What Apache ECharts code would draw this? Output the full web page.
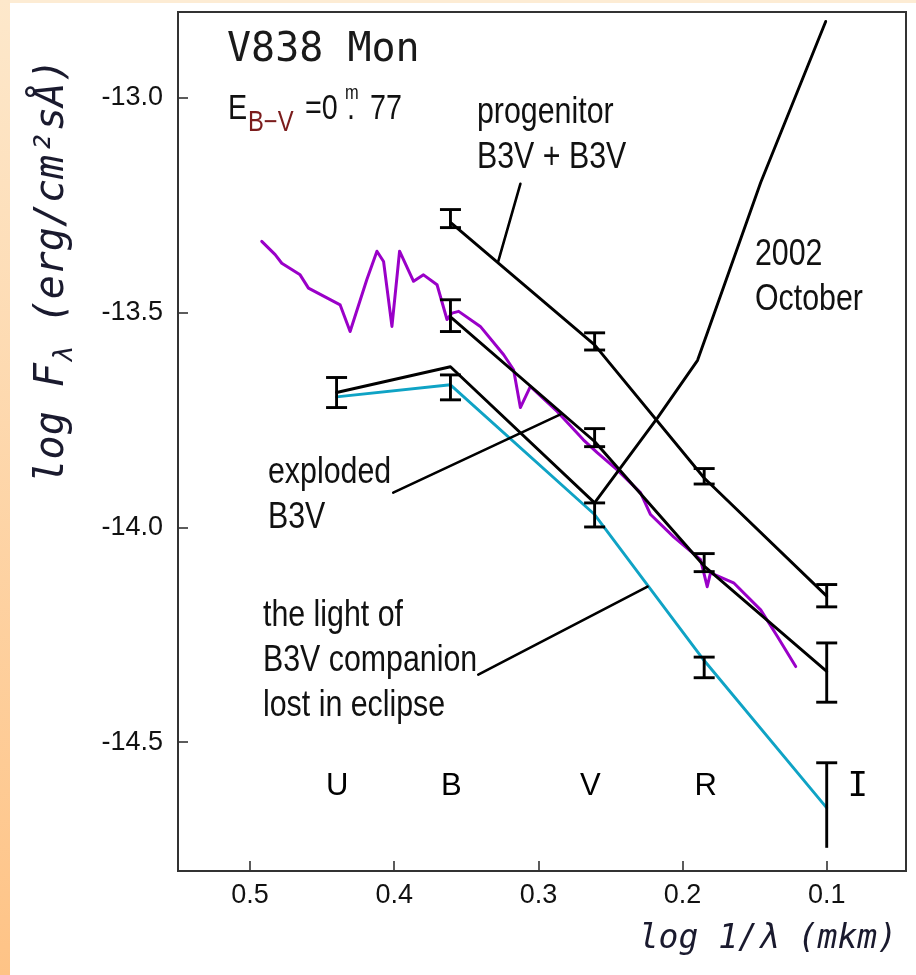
<!DOCTYPE html>
<html>
<head>
<meta charset="utf-8">
<script src="https://cdn.jsdelivr.net/npm/echarts@6/dist/echarts.min.js"></script>
<style>
  html, body { margin: 0; padding: 0; background: #fff; }
  #chart { width: 916px; height: 975px; }
</style>
</head>
<body>
<div id="chart"></div>
<script>
// Photometric bands and their positions, log(1/lambda) [1/mkm]
const bandNames = ['U', 'B', 'V', 'R', 'I'];
const bandX = [0.44, 0.361, 0.261, 0.185, 0.1];

// Progenitor B3V + B3V (bands B, V, R, I)
const progenitorFlux = [-13.29, -13.575, -13.885, -14.16];
const progenitorBarMid = [-13.281, -13.567, -13.881, -14.159];
const progenitorErr = [0.021, 0.02, 0.018, 0.026];

// Exploded B3V fit (bands B, V, R, I)
const explodedFlux = [-13.51, -13.80, -14.09, -14.335];
const explodedBarMid = [-13.507, -13.791, -14.082, -14.338];
const explodedErr = [0.037, 0.021, 0.021, 0.069];

// Eclipse-epoch photometry (bands U, B, V, R, I)
const eclipseBarMid = [-13.686, -13.674, -13.971, -14.326, -14.647];
const eclipseErr = [0.035, 0.029, 0.028, 0.024, 0.099];
const eclipseLowerCap = [1, 1, 1, 1, 0];
// Black polyline through U, B, V
const eclipseFlux = [-13.686, -13.626, -13.943];
// B3V companion light (cyan), bands U..I
const companionFlux = [-13.696, -13.668, -13.97, -14.31, -14.653];

// Spectrum
const specX = [0.4919, 0.4826, 0.4780, 0.4653, 0.4595, 0.4375, 0.4306, 0.4190, 0.4120, 0.4074,
  0.4016, 0.3963, 0.3866, 0.3797, 0.3703, 0.3634, 0.3599, 0.3553, 0.3403, 0.3241, 0.3172,
  0.3125, 0.3056, 0.2870, 0.2688, 0.2592, 0.2453, 0.2292, 0.2222, 0.2062, 0.1875, 0.1829,
  0.1806, 0.1646, 0.1458, 0.1342, 0.1215];
const specY = [-13.334, -13.365, -13.385, -13.412, -13.443, -13.482, -13.544, -13.423, -13.357, -13.381,
  -13.532, -13.357, -13.427, -13.412, -13.435, -13.516, -13.501, -13.497, -13.532, -13.598, -13.633,
  -13.721, -13.672, -13.730, -13.796, -13.826, -13.866, -13.919, -13.970, -14.022, -14.075, -14.138,
  -14.106, -14.129, -14.192, -14.254, -14.324];

// 2002 October energy distribution
const octX = [0.2604, 0.2174, 0.1896, 0.1826, 0.1458, 0.1007];
const octY = [-13.94, -13.745, -13.611, -13.545, -13.197, -12.822];

// Annotation pointer segments [[x0, y0], [x1, y1]]
const leaderProgenitor = [[0.3278, -13.38], [0.3125, -13.20]];
const leaderExploded = [[0.4007, -13.919], [0.2847, -13.737]];
const leaderCompanion = [[0.3417, -14.343], [0.2243, -14.138]];

// Axis ticks
const xTicks = [0.5, 0.4, 0.3, 0.2, 0.1];
const yTicks = [-14.5, -14.0, -13.5, -13.0];

// Band letters along the bottom
const bandLabelX = [0.4396, 0.3604, 0.2639, 0.184, 0.0785];
const bandLabelLevel = -14.604;

// ---- fonts ----
function fontAvailable(name) {
  const ctx = document.createElement('canvas').getContext('2d');
  const probe = 'progenitor B3V -13.0 0.5 exploded';
  ctx.font = '40px monospace';
  const a = ctx.measureText(probe).width;
  ctx.font = '40px "' + name + '", monospace';
  const b = ctx.measureText(probe).width;
  return Math.abs(a - b) > 0.5;
}
const HAS_NARROW = fontAvailable('Liberation Sans Narrow');
const SANS = HAS_NARROW ? '"Liberation Sans Narrow"' : '"Liberation Sans"';
const SQUEEZE = HAS_NARROW ? 1 : 0.82;
const TICK_SIZE = HAS_NARROW ? 32 : 27;
const MONO = '"DejaVu Sans Mono"';
const INK = '#111';
const TITLE_INK = '#1a1a2e';
const LW = 2.9;

const toPairs = (xs, ys) => xs.map((x, i) => [x, ys[i]]);

function barRows(xs, mids, errs, lowerCaps) {
  return xs.map((x, i) => [x, mids[i] - errs[i], mids[i] + errs[i], lowerCaps ? lowerCaps[i] : 1]);
}

function renderErrorBar(params, api) {
  const x = api.value(0);
  const top = api.coord([x, api.value(2)]);
  const bot = api.coord([x, api.value(1)]);
  const half = 10.5;
  const style = { stroke: '#000', lineWidth: LW };
  const children = [
    { type: 'line', shape: { x1: top[0], y1: top[1], x2: bot[0], y2: bot[1] }, style },
    { type: 'line', shape: { x1: top[0] - half, y1: top[1], x2: top[0] + half, y2: top[1] }, style }
  ];
  if (api.value(3)) {
    children.push({ type: 'line', shape: { x1: bot[0] - half, y1: bot[1], x2: bot[0] + half, y2: bot[1] }, style });
  }
  return { type: 'group', children };
}

function lineSeries(data, color, width, z) {
  return {
    type: 'line', data, showSymbol: false, symbol: 'none', silent: true,
    lineStyle: { color, width, join: 'round', cap: 'round' }, z: z || 3, animation: false
  };
}

function barSeries(rows) {
  return {
    type: 'custom', renderItem: renderErrorBar, data: rows, z: 5, silent: true,
    encode: { x: 0, y: [1, 2] }, animation: false
  };
}

function note(x, y, text, size) {
  return {
    type: 'text', x, y, scaleX: SQUEEZE, z: 20, silent: true,
    style: {
      text, fontFamily: SANS, fontSize: size, fill: INK, lineHeight: 45,
      align: 'left', verticalAlign: 'top'
    }
  };
}

function capText(x, yMid, text, size, color, family) {
  return {
    type: 'text', x, y: yMid, scaleX: family ? 1 : SQUEEZE, z: 20, silent: true,
    style: { text, fontFamily: family || SANS, fontSize: size, fill: color || INK, align: 'left', verticalAlign: 'middle' }
  };
}

const bandLabelData = bandNames.map((n, i) => ({
  name: n, value: [bandLabelX[i], bandLabelLevel],
  label: n === 'I' ? { fontFamily: MONO, fontSize: 34 } : {}
}));

const chart = echarts.init(document.getElementById('chart'), null, { renderer: 'canvas' });

const option = {
  backgroundColor: '#fff',
  animation: false,
  grid: {
    left: 178, right: 10, top: 12, bottom: 104,
    show: true, borderColor: '#333', borderWidth: 2, backgroundColor: '#fff',
    outerBoundsMode: 'none'
  },
  xAxis: {
    type: 'value', inverse: true, min: 0.045, max: 0.55,
    axisLine: { show: true, lineStyle: { color: '#333', width: 2 } },
    axisTick: { show: true, inside: true, length: 10, customValues: xTicks, lineStyle: { color: '#333', width: 1.6 } },
    axisLabel: {
      show: true, customValues: xTicks, margin: 11, color: INK,
      fontFamily: SANS, fontSize: TICK_SIZE, formatter: v => v.toFixed(1)
    },
    splitLine: { show: false }
  },
  yAxis: {
    type: 'value', min: -14.8, max: -12.8,
    axisLine: { show: true, lineStyle: { color: '#333', width: 2 } },
    axisTick: { show: true, inside: true, length: 10, customValues: yTicks, lineStyle: { color: '#333', width: 1.6 } },
    axisLabel: {
      show: true, customValues: yTicks, margin: 15, color: INK,
      fontFamily: SANS, fontSize: TICK_SIZE, formatter: v => v.toFixed(1)
    },
    splitLine: { show: false }
  },
  series: [
    lineSeries(toPairs(specX, specY), '#9a00c8', 3, 2),
    lineSeries(toPairs(bandX.slice(1), progenitorFlux), '#000', LW),
    lineSeries(toPairs(bandX.slice(1), explodedFlux), '#000', LW),
    lineSeries(toPairs(bandX.slice(0, 3), eclipseFlux), '#000', LW),
    lineSeries(toPairs(bandX, companionFlux), '#0fa3c5', LW),
    lineSeries(toPairs(octX, octY), '#000', LW),
    lineSeries(leaderProgenitor, '#000', 2.6),
    lineSeries(leaderExploded, '#000', 2.6),
    lineSeries(leaderCompanion, '#000', 2.6),
    barSeries(barRows(bandX.slice(1), progenitorBarMid, progenitorErr)),
    barSeries(barRows(bandX.slice(1), explodedBarMid, explodedErr)),
    barSeries(barRows(bandX, eclipseBarMid, eclipseErr, eclipseLowerCap)),
    {
      type: 'scatter', data: bandLabelData, symbolSize: 2, silent: true, z: 6,
      itemStyle: { color: '#fff', opacity: 1 },
      labelLayout: { hideOverlap: false },
      label: {
        show: true, position: 'inside', formatter: '{b}', color: '#000', opacity: 1,
        textBorderWidth: 0, fontFamily: SANS, fontSize: 31
      },
      animation: false
    }
  ],
  graphic: [
    // page edge shading
    {
      type: 'rect', z: -10, silent: true, shape: { x: 0, y: 0, width: 10, height: 975 },
      style: { fill: new echarts.graphic.LinearGradient(0, 0, 0, 1, [
        { offset: 0, color: '#fde8cb' }, { offset: 1, color: '#fec386' }]) }
    },
    { type: 'rect', z: -10, silent: true, shape: { x: 10, y: 0, width: 906, height: 3 }, style: { fill: '#fdecd4' } },

    // star name and reddening
    capText(227, 51, 'V838 Mon', 40, '#1a1a1a', MONO),
    capText(228, 109.5, 'E', 35),
    capText(248, 122.5, 'B\u2212V', 29, '#7b1c1c'),
    capText(305, 109.5, '=0', 35),
    capText(345, 93, 'm', 20),
    capText(347, 109.5, '.', 35),
    capText(370, 109.5, '77', 35),

    // annotations
    note(477, 90, 'progenitor\nB3V + B3V', 37),
    note(755, 232, '2002\nOctober', 37),
    note(268, 450, 'exploded\nB3V', 37),
    note(263, 593, 'the light of\nB3V companion\nlost in eclipse', 37),

    // axis titles
    {
      type: 'text', x: 53, y: 271, rotation: Math.PI / 2, z: 20, silent: true,
      style: {
        text: '{a|log F}{s|\u03bb}{a| (erg/cm\u00b2s\u00c5)}',
        align: 'center', verticalAlign: 'middle',
        rich: {
          a: { fontFamily: MONO, fontStyle: 'italic', fontSize: 40, lineHeight: 50, fill: TITLE_INK, verticalAlign: 'middle' },
          s: { fontFamily: MONO, fontStyle: 'italic', fontSize: 26, lineHeight: 26, fill: TITLE_INK, verticalAlign: 'bottom' }
        }
      }
    },
    {
      type: 'text', x: 897, y: 939, z: 20, silent: true,
      style: {
        text: 'log 1/\u03bb (mkm)', fontFamily: MONO, fontStyle: 'italic', fontSize: 33,
        fill: TITLE_INK, align: 'right', verticalAlign: 'middle'
      }
    }
  ]
};

chart.setOption(option);
</script>
</body>
</html>
